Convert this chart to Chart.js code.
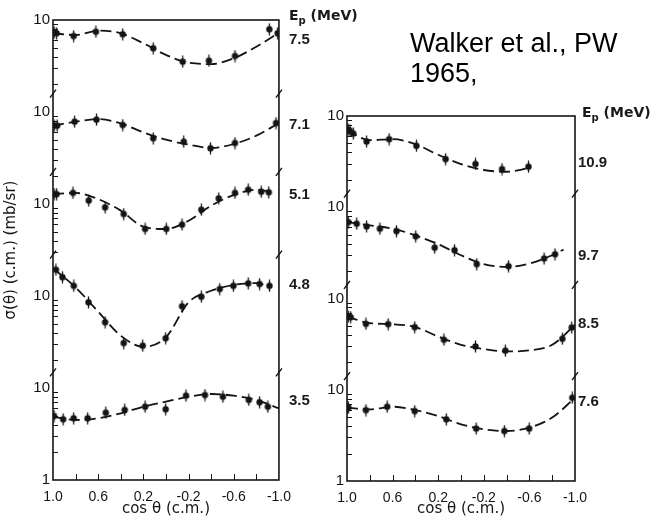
<!DOCTYPE html>
<html>
<head>
<meta charset="utf-8">
<script src="https://cdn.jsdelivr.net/npm/chart.js@4.4.1/dist/chart.umd.min.js"></script>
<style>
  body { margin: 0; background: #fff; width: 650px; height: 521px; position: relative; overflow: hidden; }
  canvas { position: absolute; top: 0; }
  .note { position: absolute; left: 410px; top: 28px; font: 27px/30px "Liberation Sans", Arial, sans-serif; color: #000; }
  .ep { position: absolute; font: bold 14px/18px "DejaVu Sans", sans-serif; color: #1a1a1a; white-space: nowrap; }
  .ep sub { font-size: 10px; }
  .en { position: absolute; font: bold 15px/18px "Liberation Sans", Arial, sans-serif; color: #1a1a1a; }
</style>
</head>
<body>
<canvas id="leftChart" width="300" height="521" style="left:0"></canvas>
<canvas id="rightChart" width="300" height="521" style="left:300px"></canvas>

<div class="note">Walker et al., PW<br>1965,</div>

<div class="ep" style="left:289px;top:6px">E<sub>p</sub> (MeV)</div>
<div class="en" style="left:289px;top:30px">7.5</div>
<div class="en" style="left:289px;top:115px">7.1</div>
<div class="en" style="left:289px;top:185px">5.1</div>
<div class="en" style="left:289px;top:275px">4.8</div>
<div class="en" style="left:289px;top:391px">3.5</div>

<div class="ep" style="left:582px;top:103px">E<sub>p</sub> (MeV)</div>
<div class="en" style="left:578px;top:153px">10.9</div>
<div class="en" style="left:578px;top:246px">9.7</div>
<div class="en" style="left:578px;top:314px">8.5</div>
<div class="en" style="left:578px;top:392px">7.6</div>

<script>
// ---------------- data ----------------
// cos(theta) grid used for the fitted (dashed) curves
var fitCos = [1.0, 0.8, 0.6, 0.4, 0.2, 0.0, -0.2, -0.4, -0.6, -0.8, -1.0];
var fitCosShort = [1.0, 0.8, 0.6, 0.4, 0.2, 0.0, -0.2, -0.4, -0.6, -0.8, -0.9];

// left panel: Ep = 7.5, 7.1, 5.1, 4.8, 3.5 MeV (stacked one decade apart)
var leftEnergies = [7.5, 7.1, 5.1, 4.8, 3.5];
var leftOffsets = [1e4, 1e3, 1e2, 1e1, 1];

var cos75 = [0.99, 0.968, 0.817, 0.62, 0.383, 0.113, -0.148, -0.38, -0.611, -0.915, -0.988];
var sig75 = [7.3, 7.17, 6.7, 7.46, 7.0, 4.93, 3.52, 3.61, 4.06, 7.93, 7.17];
var fit75 = [7.17, 6.87, 7.65, 7.17, 5.58, 4.17, 3.43, 3.32, 3.83, 5.13, 7.28];

var cos71 = [0.99, 0.963, 0.809, 0.615, 0.383, 0.113, -0.157, -0.394, -0.611, -0.974];
var sig71 = [7.1, 7.1, 7.85, 8.25, 7.22, 5.18, 4.75, 4.03, 4.6, 7.59];
var fit71 = [7.1, 7.85, 8.38, 7.53, 6.0, 5.0, 4.43, 4.06, 4.49, 5.53, 7.59];

var cos51 = [0.99, 0.968, 0.823, 0.684, 0.539, 0.374, 0.185, -0.003, -0.142, -0.313, -0.467, -0.611, -0.728, -0.843, -0.91];
var sig51 = [12.8, 12.8, 13.2, 10.9, 9.2, 7.78, 5.35, 5.35, 5.96, 8.67, 11.5, 13.2, 14.3, 13.6, 13.4];
var fit51 = [12.8, 13.2, 11.3, 8.47, 5.67, 5.35, 6.58, 9.6, 12.5, 14.3, 13.8];

var cos48 = [0.974, 0.916, 0.816, 0.686, 0.539, 0.374, 0.206, 0.003, -0.142, -0.313, -0.476, -0.597, -0.728, -0.829, -0.916];
var sig48 = [19.3, 16, 12.9, 8.54, 5.18, 3.08, 2.88, 3.47, 7.73, 9.82, 11.9, 12.9, 13.7, 13.5, 12.9];
var fit48 = [20, 12.4, 6.75, 3.7, 2.81, 3.56, 8.54, 11.4, 13.2, 13.8, 12.9];

var cos35 = [0.991, 0.91, 0.817, 0.693, 0.533, 0.365, 0.185, 0.003, -0.177, -0.345, -0.504, -0.733, -0.829, -0.902];
var sig35 = [4.96, 4.57, 4.69, 4.69, 5.39, 5.77, 6.26, 5.87, 8.25, 8.39, 8.04, 7.41, 6.99, 6.26];
var fit35 = [4.88, 4.49, 4.69, 5.31, 6.26, 7.1, 8.04, 8.61, 8.25, 7.41, 6.01];

// right panel: Ep = 10.9, 9.7, 8.5, 7.6 MeV
var rightEnergies = [10.9, 9.7, 8.5, 7.6];
var rightOffsets = [1e3, 1e2, 1e1, 1];

var cos109 = [0.99, 0.974, 0.945, 0.828, 0.63, 0.391, 0.135, -0.127, -0.36, -0.592];
var sig109 = [7.1, 6.86, 6.41, 5.25, 5.57, 4.71, 3.37, 2.98, 2.62, 2.78];
var fitCos109 = [1.0, 0.8, 0.6, 0.4, 0.2, 0.0, -0.2, -0.4, -0.6];
var fit109 = [6.98, 5.43, 5.57, 4.91, 3.76, 2.97, 2.56, 2.45, 2.69];

var cos97 = [0.989, 0.915, 0.828, 0.712, 0.566, 0.397, 0.231, 0.057, -0.138, -0.417, -0.729, -0.825];
var sig97 = [6.87, 6.6, 6.17, 5.82, 5.48, 4.8, 3.61, 3.38, 2.38, 2.26, 2.74, 3.05];
var fit97 = [6.87, 6.33, 5.82, 4.92, 3.93, 2.98, 2.38, 2.22, 2.42, 2.98, 3.44];

var cos85 = [0.989, 0.968, 0.834, 0.639, 0.406, 0.15, -0.127, -0.389, -0.889, -0.971];
var sig85 = [6.34, 6.24, 5.27, 5.23, 4.85, 3.53, 2.98, 2.68, 3.62, 4.81];
var fit85 = [6.34, 5.37, 5.23, 4.85, 3.83, 3.11, 2.79, 2.63, 2.7, 3.11, 5.14];

var cos76 = [0.995, 0.989, 0.834, 0.648, 0.406, 0.129, -0.133, -0.38, -0.598, -0.976];
var sig76 = [6.36, 6.36, 5.98, 6.52, 5.84, 4.74, 3.75, 3.53, 3.75, 8.17];
var fit76 = [6.36, 6.09, 6.52, 5.98, 5.15, 4.18, 3.69, 3.53, 3.85, 4.95, 8.17];

// where the axis breaks ("/") sit, in decades of the stacked scale
var leftBreaks = [4.2, 3.35, 2.45, 1.17];
var rightBreaks = [3.15, 2.15, 1.15];

// x tick labels shown under the axis
var xLabels = [1.0, 0.6, 0.2, -0.2, -0.6, -1.0];

// ---------------- helpers ----------------
var ink = '#141414';

// filled dot with a small vertical error bar
function makeDot() {
    var c = document.createElement('canvas');
    c.width = 9; c.height = 13;
    var g = c.getContext('2d');
    g.fillStyle = ink; g.strokeStyle = ink; g.lineWidth = 1.3;
    g.beginPath(); g.moveTo(4.5, 0.5); g.lineTo(4.5, 12.5); g.stroke();
    g.beginPath(); g.arc(4.5, 6.5, 3.2, 0, Math.PI * 2); g.fill();
    return c;
}
var dot = makeDot();

function pairs(xs, ys, k) {
    return xs.map(function(v, i) { return { x: v, y: ys[i] * k }; });
}

function seriesSets(list) {
    var out = [];
    list.forEach(function(s) {
        out.push({
            data: pairs(s.fx, s.fy, s.k),
            showLine: true,
            borderColor: ink,
            borderWidth: 1.8,
            borderDash: [11, 5],
            cubicInterpolationMode: 'monotone',
            pointRadius: 0
        });
        out.push({
            data: pairs(s.px, s.py, s.k),
            showLine: false,
            pointStyle: dot,
            pointRadius: 4,
            backgroundColor: ink
        });
    });
    return out;
}

// frame, inner ticks and axis breaks, all placed through the chart scales
var framePlugin = {
    id: 'frame',
    afterDraw: function(chart, args, opts) {
        var ctx = chart.ctx, a = chart.chartArea;
        var xs = chart.scales.x, ys = chart.scales.y;
        ctx.save();
        ctx.strokeStyle = ink;
        ctx.lineWidth = 1.6;
        ctx.strokeRect(a.left, a.top, a.right - a.left, a.bottom - a.top);

        ctx.lineWidth = 1;
        ctx.beginPath();
        // minor log ticks on the left axis
        for (var d = 1; d < ys.max * 0.999; d *= 10) {
            for (var k = 2; k <= 9; k++) {
                var py = Math.round(ys.getPixelForValue(d * k)) + 0.5;
                ctx.moveTo(a.left, py);
                ctx.lineTo(a.left + 5, py);
            }
        }
        // x ticks rising from the bottom axis
        xs.ticks.forEach(function(t) {
            if (Math.abs(t.value) > 0.95) return;
            var px = Math.round(xs.getPixelForValue(t.value)) + 0.5;
            ctx.moveTo(px, a.bottom);
            ctx.lineTo(px, a.bottom - 6);
        });
        ctx.stroke();

        // axis breaks
        ctx.lineWidth = 1.4;
        ctx.beginPath();
        opts.breaks.forEach(function(b) {
            var py = ys.getPixelForValue(Math.pow(10, b));
            [a.left, a.right].forEach(function(px) {
                ctx.moveTo(px - 3, py + 4);
                ctx.lineTo(px + 3, py - 4);
            });
        });
        ctx.stroke();
        ctx.restore();
    }
};

function makeChart(id, sets, yMax, breaks, yTitle, box) {
    new Chart(document.getElementById(id), {
        type: 'scatter',
        data: { datasets: sets },
        plugins: [framePlugin],
        options: {
            responsive: false,
            animation: false,
            layout: { padding: { top: box.top, right: box.right, left: 0, bottom: 0 } },
            plugins: {
                legend: { display: false },
                tooltip: { enabled: false },
                frame: { breaks: breaks }
            },
            scales: {
                x: {
                    type: 'linear',
                    reverse: true,
                    min: -1, max: 1,
                    grid: { display: false, drawTicks: false },
                    border: { display: false },
                    afterFit: function(s) { s.height = box.xh; },
                    ticks: {
                        stepSize: 0.2,
                        autoSkip: false,
                        maxRotation: 0,
                        padding: 9,
                        color: ink,
                        font: { family: 'Liberation Sans', size: 14 },
                        callback: function(v) {
                            var hit = xLabels.some(function(l) { return Math.abs(l - v) < 1e-6; });
                            return hit ? (Math.round(v * 10) / 10).toFixed(1) : '';
                        }
                    },
                    title: {
                        display: true,
                        text: 'cos \u03b8 (c.m.)',
                        color: ink,
                        padding: { top: 0, bottom: 3 },
                        font: { family: 'DejaVu Sans', size: 15 }
                    }
                },
                y: {
                    type: 'logarithmic',
                    min: 1, max: yMax,
                    grid: { display: false, drawTicks: false },
                    border: { display: false },
                    afterFit: function(s) { s.width = box.yw; },
                    afterBuildTicks: function(s) {
                        s.ticks = s.ticks.filter(function(t) {
                            var l = Math.log10(t.value);
                            return Math.abs(l - Math.round(l)) < 1e-9;
                        });
                    },
                    ticks: {
                        padding: 3,
                        color: ink,
                        font: { family: 'Liberation Sans', size: 15 },
                        callback: function(v) { return Math.round(v) === 1 ? '1' : '10'; }
                    },
                    title: {
                        display: !!yTitle,
                        text: yTitle,
                        color: ink,
                        padding: { top: 2, bottom: 0 },
                        font: { family: 'DejaVu Sans', size: 15 }
                    }
                }
            }
        }
    });
}

var leftSets = seriesSets([
    { px: cos75, py: sig75, fx: fitCos, fy: fit75, k: leftOffsets[0] },
    { px: cos71, py: sig71, fx: fitCos, fy: fit71, k: leftOffsets[1] },
    { px: cos51, py: sig51, fx: fitCosShort, fy: fit51, k: leftOffsets[2] },
    { px: cos48, py: sig48, fx: fitCosShort, fy: fit48, k: leftOffsets[3] },
    { px: cos35, py: sig35, fx: fitCos, fy: fit35, k: leftOffsets[4] }
]);

var rightSets = seriesSets([
    { px: cos109, py: sig109, fx: fitCos109, fy: fit109, k: rightOffsets[0] },
    { px: cos97, py: sig97, fx: fitCosShort, fy: fit97, k: rightOffsets[1] },
    { px: cos85, py: sig85, fx: fitCos, fy: fit85, k: rightOffsets[2] },
    { px: cos76, py: sig76, fx: fitCos, fy: fit76, k: rightOffsets[3] }
]);

makeChart('leftChart', leftSets, 1e5, leftBreaks, '\u03c3(\u03b8) (c.m.) (mb/sr)',
    { top: 20, right: 17, yw: 53, xh: 41 });
makeChart('rightChart', rightSets, 1e4, rightBreaks, '',
    { top: 116, right: 25, yw: 47, xh: 40 });
</script>
</body>
</html>
